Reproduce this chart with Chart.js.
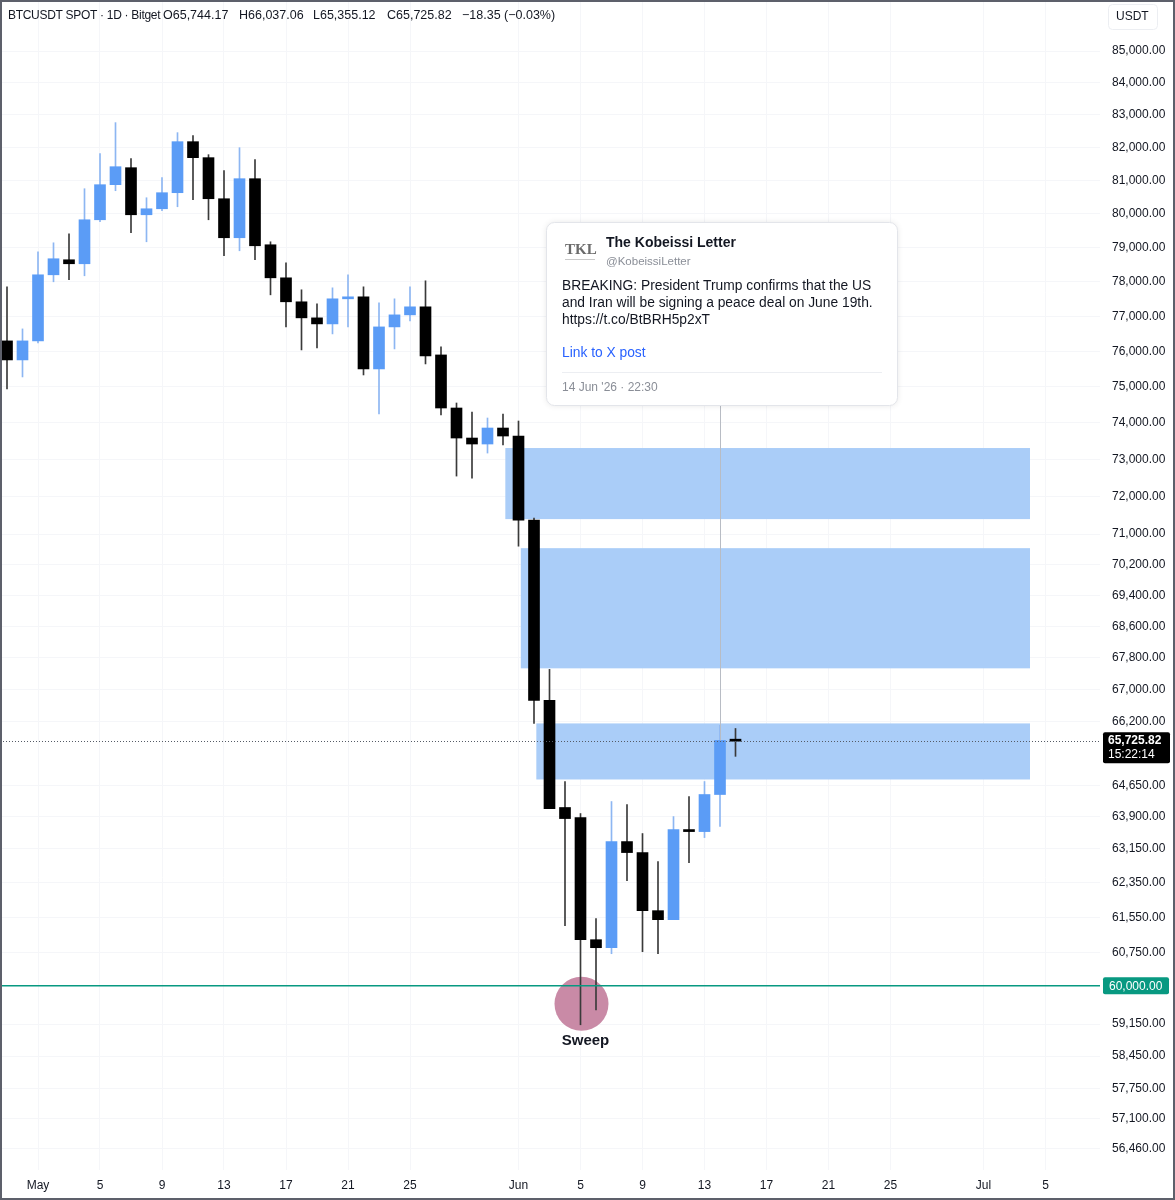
<!DOCTYPE html>
<html>
<head>
<meta charset="utf-8">
<title>BTCUSDT SPOT 1D</title>
<script src="https://cdn.jsdelivr.net/npm/chart.js@4.4.1/dist/chart.umd.min.js"></script>
<style>
  html, body { margin: 0; padding: 0; background: #ffffff; }
  #wrap { width: 1175px; height: 1200px; position: relative; }
</style>
</head>
<body>
<div id="wrap"><canvas id="btcChart" width="1175" height="1200"></canvas></div>
<script>
// daily candles
const dates = [
    '2026-04-29', '2026-04-30', '2026-05-01', '2026-05-02', '2026-05-03', '2026-05-04', '2026-05-05', '2026-05-06',
    '2026-05-07', '2026-05-08', '2026-05-09', '2026-05-10', '2026-05-11', '2026-05-12', '2026-05-13', '2026-05-14',
    '2026-05-15', '2026-05-16', '2026-05-17', '2026-05-18', '2026-05-19', '2026-05-20', '2026-05-21', '2026-05-22',
    '2026-05-23', '2026-05-24', '2026-05-25', '2026-05-26', '2026-05-27', '2026-05-28', '2026-05-29', '2026-05-30',
    '2026-05-31', '2026-06-01', '2026-06-02', '2026-06-03', '2026-06-04', '2026-06-05', '2026-06-06', '2026-06-07',
    '2026-06-08', '2026-06-09', '2026-06-10', '2026-06-11', '2026-06-12', '2026-06-13', '2026-06-14', '2026-06-15'
];
const openPrices = [
    76298, 75759, 76298, 78201, 78640, 78523, 79821, 80871,
    81385, 79970, 80149, 80630, 82178, 81690, 80449, 79288,
    81052, 79081, 78113, 77418, 76956, 76783, 77504, 77561,
    75505, 76697, 77042, 77273, 75900, 74414, 73586, 73422,
    73861, 73641, 71369, 66733, 64121, 63882, 61039, 60857,
    63312, 63053, 61703, 61496, 63596, 63548, 64432, 65744.17
];
const highPrices = [
    77851, 76640, 78874, 79139, 79406, 80750, 81811, 82763,
    81659, 80479, 81082, 82455, 82363, 81781, 81295, 81994,
    81628, 79169, 78552, 77765, 77359, 77822, 78201, 77851,
    77388, 77504, 77851, 78026, 76127, 74553, 74303, 74137,
    74248, 74054, 71420, 67508, 64745, 63977, 61519, 64264,
    64192, 63502, 62842, 63905, 64384, 64745, 66112, 66037.06
];
const lowPrices = [
    74944, 75280, 76241, 77997, 78056, 78172, 79762, 80690,
    79435, 79169, 80089, 80209, 80419, 79821, 78757, 78904,
    78640, 77619, 76697, 76042, 76099, 76497, 76697, 75336,
    74248, 76070, 76870, 75646, 74221, 72550, 72496, 73175,
    73394, 70679, 66162, 64096, 61358, 59134, 59465, 60721,
    62398, 60766, 60721, 61496, 62818, 63406, 63668, 65355.12
];
const closePrices = [
    75759, 76298, 78201, 78670, 78523, 79821, 80871, 81415,
    79970, 80149, 80630, 82178, 81690, 80449, 79288, 81052,
    79051, 78113, 77418, 76956, 76783, 77504, 77561, 75505,
    76697, 77042, 77273, 75872, 74414, 73586, 73422, 73861,
    73641, 71369, 66733, 64096, 63857, 61039, 60857, 63312,
    63053, 61703, 61496, 63596, 63548, 64432, 65744, 65725.82
];

// price axis ticks (as printed on the right scale)
const priceTicks = [
    85000, 84000, 83000, 82000, 81000, 80000, 79000, 78000, 77000, 76000, 75000, 74000,
    73000, 72000, 71000, 70200, 69400, 68600, 67800, 67000, 66200, 64650, 63900, 63150,
    62350, 61550, 60750, 59150, 58450, 57750, 57100, 56460
];
// time axis ticks
const timeTickDates = [
    '2026-05-01', '2026-05-05', '2026-05-09', '2026-05-13', '2026-05-17', '2026-05-21', '2026-05-25',
    '2026-06-01', '2026-06-05', '2026-06-09', '2026-06-13', '2026-06-17', '2026-06-21', '2026-06-25',
    '2026-07-01', '2026-07-05'
];
const timeTickLabels = ['May', '5', '9', '13', '17', '21', '25', 'Jun', '5', '9', '13', '17', '21', '25', 'Jul', '5'];

// blue zones
const zoneStart = ['2026-05-31', '2026-06-01', '2026-06-02'];
const zoneEnd = ['2026-07-04', '2026-07-04', '2026-07-04'];
const zoneTop = [73312, 70627, 66162];
const zoneBottom = [71396, 67534, 64794];

// levels and marks
const supportLevel = 60000;
const lastPrice = 65725.82;
const sweepDate = '2026-06-05';
const sweepPrice = 59598;
const tweetDate = '2026-06-14';

document.addEventListener('DOMContentLoaded', function () {
    const dayOf = (iso) => (Date.parse(iso) - Date.parse('2026-05-01')) / 86400000;
    const days = dates.map(dayOf);
    const tickDays = timeTickDates.map(dayOf);

    const upBody = '#5b9cf6';
    const downBody = '#000000';
    const upWick = '#8db6f2';
    const downWick = '#3a3a3a';
    const isUp = closePrices.map((c, i) => c >= openPrices[i]);

    const fmt = (v) => v.toLocaleString('en-US', { minimumFractionDigits: 2, maximumFractionDigits: 2 });
    const FONT = '"Liberation Sans", Arial, sans-serif';

    function rrect(ctx, x, y, w, h, r) {
        ctx.beginPath();
        ctx.moveTo(x + r, y);
        ctx.arcTo(x + w, y, x + w, y + h, r);
        ctx.arcTo(x + w, y + h, x, y + h, r);
        ctx.arcTo(x, y + h, x, y, r);
        ctx.arcTo(x, y, x + w, y, r);
        ctx.closePath();
    }

    // no extra label padding around the plot
    function noPadding(scale) {
        scale.paddingTop = 0;
        scale.paddingBottom = 0;
        scale.paddingLeft = 0;
        scale.paddingRight = 0;
    }

    // drawings on top of the price chart
    const drawings = {
        id: 'drawings',
        beforeDatasetsDraw(chart) {
            const { ctx, scales: { x, y }, chartArea } = chart;
            ctx.save();
            ctx.beginPath();
            ctx.rect(chartArea.left, chartArea.top, chartArea.width, chartArea.height);
            ctx.clip();

            // zones
            ctx.fillStyle = '#aacdf8';
            zoneStart.forEach((s, i) => {
                const x0 = x.getPixelForValue(dayOf(s) + 0.15);
                const x1 = x.getPixelForValue(dayOf(zoneEnd[i]));
                const y0 = y.getPixelForValue(zoneTop[i]);
                const y1 = y.getPixelForValue(zoneBottom[i]);
                ctx.fillRect(x0, y0, x1 - x0, y1 - y0);
            });

            // sweep circle
            ctx.fillStyle = '#c98aa6';
            ctx.beginPath();
            ctx.arc(x.getPixelForValue(dayOf(sweepDate)) + 1, y.getPixelForValue(sweepPrice), 27, 0, Math.PI * 2);
            ctx.fill();
            ctx.restore();
        },
        afterDatasetsDraw(chart) {
            const { ctx, scales: { x, y }, chartArea } = chart;
            ctx.save();

            // last price dotted line
            const yl = Math.round(y.getPixelForValue(lastPrice)) + 0.5;
            ctx.strokeStyle = '#555b66';
            ctx.lineWidth = 1;
            ctx.setLineDash([1, 2]);
            ctx.beginPath();
            ctx.moveTo(chartArea.left, yl);
            ctx.lineTo(chartArea.right, yl);
            ctx.stroke();
            ctx.setLineDash([]);

            // 60k level
            const ys = y.getPixelForValue(supportLevel);
            ctx.strokeStyle = '#089981';
            ctx.lineWidth = 1.5;
            ctx.beginPath();
            ctx.moveTo(chartArea.left, ys);
            ctx.lineTo(chartArea.right, ys);
            ctx.stroke();

            // pointer from tweet to candle
            const ti = dates.indexOf(tweetDate);
            const xt = Math.round(x.getPixelForValue(days[ti])) + 0.5;
            ctx.strokeStyle = '#b8bcc4';
            ctx.lineWidth = 1;
            ctx.beginPath();
            ctx.moveTo(xt, 405);
            ctx.lineTo(xt, y.getPixelForValue(closePrices[ti]));
            ctx.stroke();

            // Sweep label
            ctx.fillStyle = '#131722';
            ctx.font = 'bold 15px ' + FONT;
            ctx.textAlign = 'center';
            ctx.textBaseline = 'middle';
            ctx.fillText('Sweep', x.getPixelForValue(dayOf(sweepDate)) + 5, 1041);
            ctx.restore();
        },
        afterDraw(chart) {
            const { ctx, scales: { y } } = chart;
            ctx.save();
            ctx.textBaseline = 'middle';
            ctx.textAlign = 'left';

            // header
            ctx.fillStyle = '#131722';
            ctx.font = '12px ' + FONT;
            ctx.letterSpacing = '-0.3px';
            ctx.fillText('BTCUSDT SPOT · 1D · Bitget', 8, 16);
            ctx.letterSpacing = '0px';
            ctx.font = '12.5px ' + FONT;
            ctx.fillText('O65,744.17', 163, 16);
            ctx.fillText('H66,037.06', 239, 16);
            ctx.fillText('L65,355.12', 313, 16);
            ctx.fillText('C65,725.82', 387, 16);
            ctx.fillText('\u221218.35 (\u22120.03%)', 462, 16);

            // currency box
            ctx.font = '12px ' + FONT;
            ctx.strokeStyle = '#eceef2';
            rrect(ctx, 1108.5, 4.5, 49, 25, 4);
            ctx.stroke();
            ctx.fillText('USDT', 1116, 17);

            // last price label
            const yl = y.getPixelForValue(lastPrice);
            ctx.fillStyle = '#000000';
            rrect(ctx, 1103, yl - 9, 67, 31, 2);
            ctx.fill();
            ctx.fillStyle = '#ffffff';
            ctx.font = 'bold 12px ' + FONT;
            ctx.fillText(fmt(lastPrice), 1108, yl);
            ctx.font = '12px ' + FONT;
            ctx.fillText('15:22:14', 1108, yl + 14);

            // support label
            const ys = y.getPixelForValue(supportLevel);
            ctx.fillStyle = '#089981';
            rrect(ctx, 1103, ys - 8.5, 66, 17, 2);
            ctx.fill();
            ctx.fillStyle = '#ffffff';
            ctx.fillText(fmt(supportLevel), 1109, ys + 0.5);

            // tweet card
            ctx.shadowColor = 'rgba(0,0,0,0.10)';
            ctx.shadowBlur = 6;
            ctx.fillStyle = '#ffffff';
            rrect(ctx, 546.5, 222.5, 351, 183, 8);
            ctx.fill();
            ctx.shadowColor = 'transparent';
            ctx.strokeStyle = '#e3e5ea';
            ctx.stroke();

            ctx.fillStyle = '#6b6b6b';
            ctx.font = 'bold 15px "Liberation Serif", serif';
            ctx.fillText('TKL', 565, 250);
            ctx.fillStyle = '#c9c9c9';
            ctx.fillRect(565, 259, 30, 1);

            ctx.fillStyle = '#131722';
            ctx.font = 'bold 14px ' + FONT;
            ctx.fillText('The Kobeissi Letter', 606, 243);
            ctx.fillStyle = '#8a8e97';
            ctx.font = '11.5px ' + FONT;
            ctx.fillText('@KobeissiLetter', 606, 262);

            ctx.fillStyle = '#131722';
            ctx.font = '13.8px ' + FONT;
            ctx.fillText('BREAKING: President Trump confirms that the US', 562, 286);
            ctx.fillText('and Iran will be signing a peace deal on June 19th.', 562, 303);
            ctx.fillText('https://t.co/BtBRH5p2xT', 562, 320);

            ctx.fillStyle = '#2962ff';
            ctx.fillText('Link to X post', 562, 353);

            ctx.fillStyle = '#eceef2';
            ctx.fillRect(562, 372, 320, 1);
            ctx.fillStyle = '#8a8e97';
            ctx.font = '12px ' + FONT;
            ctx.fillText("14 Jun '26 \u00b7 22:30", 562, 388);

            // frame
            ctx.strokeStyle = '#5d606b';
            ctx.lineWidth = 2;
            ctx.strokeRect(1, 1, chart.width - 2, chart.height - 2);
            ctx.restore();
        }
    };

    const chartEl = document.getElementById('btcChart');
    new Chart(chartEl, {
        type: 'bar',
        data: {
            datasets: [
                {
                    label: 'Body',
                    data: days.map((d, i) => ({ x: d, y: [openPrices[i], closePrices[i]] })),
                    backgroundColor: isUp.map(u => u ? upBody : downBody),
                    barThickness: 11,
                    minBarLength: 2,
                    grouped: false,
                    order: 1
                },
                {
                    label: 'Wick',
                    data: days.map((d, i) => ({ x: d, y: [lowPrices[i], highPrices[i]] })),
                    backgroundColor: isUp.map(u => u ? upWick : downWick),
                    barThickness: 1,
                    grouped: false,
                    order: 2
                }
            ]
        },
        options: {
            responsive: false,
            animation: false,
            devicePixelRatio: 1,
            layout: { padding: 0 },
            plugins: {
                legend: { display: false },
                tooltip: { enabled: false }
            },
            scales: {
                x: {
                    type: 'linear',
                    position: 'bottom',
                    offset: false,
                    min: -38 / 15.5,
                    max: (1100 - 38) / 15.5,
                    afterFit: (scale) => { scale.height = 30; noPadding(scale); },
                    afterBuildTicks: (scale) => { scale.ticks = tickDays.map(v => ({ value: v })); },
                    ticks: {
                        autoSkip: false,
                        maxRotation: 0,
                        padding: 8,
                        color: '#131722',
                        font: { family: FONT, size: 12 },
                        callback: (value) => timeTickLabels[tickDays.indexOf(value)]
                    },
                    grid: { color: '#f5f6f9', drawTicks: false, offset: false },
                    border: { display: false }
                },
                y: {
                    type: 'logarithmic',
                    position: 'right',
                    min: 56019,
                    max: 86633,
                    bounds: 'data',
                    afterFit: (scale) => { scale.width = 75; noPadding(scale); },
                    afterBuildTicks: (scale) => { scale.ticks = priceTicks.map(v => ({ value: v })); },
                    ticks: {
                        autoSkip: false,
                        padding: 12,
                        color: '#131722',
                        font: { family: FONT, size: 12 },
                        callback: (value) => fmt(value)
                    },
                    grid: { color: '#f5f6f9', drawTicks: false },
                    border: { display: false }
                }
            }
        },
        plugins: [drawings]
    });
});
</script>
</body>
</html>
